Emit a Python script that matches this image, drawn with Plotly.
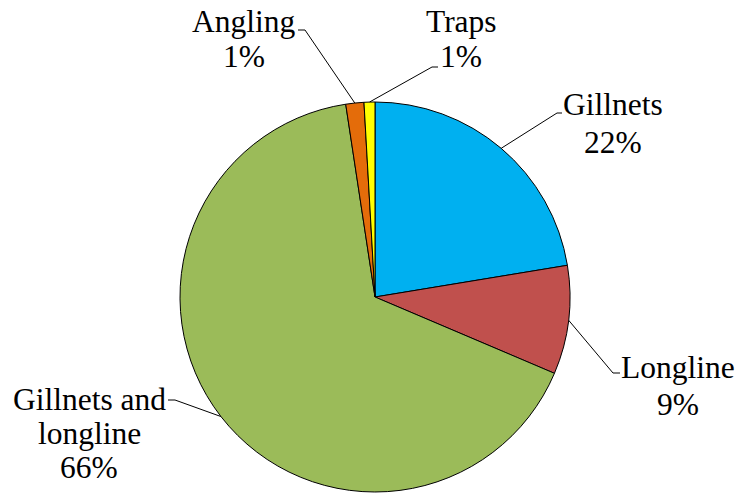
import math
import plotly.graph_objects as go

# ---- data ----
categories = ["Gillnets", "Longline", "Gillnets and longline", "Angling", "Traps"]
values = [22.4, 9.0, 66.2, 1.5, 0.9]
pct_text = ["22%", "9%", "66%", "1%", "1%"]
label_lines = [["Gillnets"], ["Longline"], ["Gillnets and", "longline"], ["Angling"], ["Traps"]]

# ---- style / layout config ----
colors = ["#00B0F0", "#C0504D", "#9BBB59", "#E46C0A", "#FFFF00"]
W, H = 741, 496
CX, CY, R = 375, 297, 195
FONT = "Liberation Serif"
FS = 31.5
# label centre x and line baselines (pixels), leader elbow and end (pixels)
label_cfg = [
    dict(x=613, base=[113, 150], elbow=(557, 113), end=(562, 113)),
    dict(x=678, base=[375, 412], elbow=(613, 373), end=(620, 373)),
    dict(x=89, base=[407, 441, 475], elbow=(175, 400), end=(168, 400)),
    dict(x=244, base=[30, 65], elbow=(305, 30), end=(298, 30)),
    dict(x=461, base=[30, 65], elbow=(432, 67), end=(438, 67)),
]


def px(x):
    return x / W


def py(y):
    return 1 - y / H


fig = go.Figure(go.Pie(
    labels=categories,
    values=values,
    sort=False,
    direction="clockwise",
    rotation=0,
    marker=dict(colors=colors, line=dict(color="black", width=1)),
    textinfo="none",
    hoverinfo="label+percent",
    showlegend=False,
    domain=dict(x=[px(CX - R), px(CX + R)], y=[py(CY + R), py(CY - R)]),
))

annotations = []
shapes = []
total = sum(values)
cum = 0.0
for i, v in enumerate(values):
    mid = (cum + v / 2) / total * 2 * math.pi
    cum += v
    ex = CX + R * math.sin(mid)
    ey = CY - R * math.cos(mid)
    cfg = label_cfg[i]
    (bx, by), (tx, ty) = cfg["elbow"], cfg["end"]
    shapes.append(dict(
        type="path", xref="paper", yref="paper",
        path=f"M {px(ex)},{py(ey)} L {px(bx)},{py(by)} L {px(tx)},{py(ty)}",
        line=dict(color="black", width=1),
    ))
    lines = label_lines[i] + [pct_text[i]]
    for line, base in zip(lines, cfg["base"]):
        annotations.append(dict(
            x=px(cfg["x"]), y=py(base - 8), xref="paper", yref="paper",
            text=line, showarrow=False, xanchor="center", yanchor="middle",
            font=dict(family=FONT, size=FS, color="black"),
        ))

fig.update_layout(
    width=W, height=H,
    margin=dict(l=0, r=0, t=0, b=0),
    paper_bgcolor="white", plot_bgcolor="white",
    font=dict(family=FONT),
    annotations=annotations, shapes=shapes,
)
fig.write_html(
    "out.html",
    config={"displayModeBar": False},
    post_script="document.body.style.margin='0';document.body.style.overflow='hidden';",
)
